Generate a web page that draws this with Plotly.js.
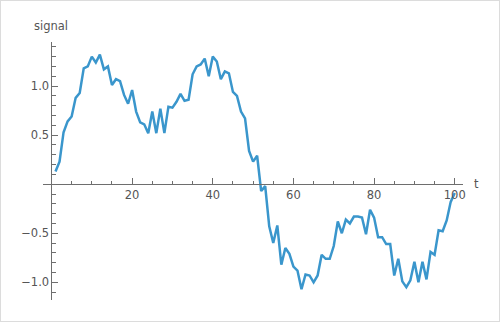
<!DOCTYPE html>
<html>
<head>
<meta charset="utf-8">
<script src="https://cdn.plot.ly/plotly-3.0.1.min.js"></script>
<style>
  html, body { margin: 0; padding: 0; background: #fff; }
  #wrap { position: relative; width: 500px; height: 322px; }
  #chart { position: absolute; left: 0; top: 0; width: 500px; height: 322px; }
  #frame { position: absolute; left: 0; top: 0; width: 500px; height: 322px; box-sizing: border-box; border: 1px solid #dcdcdc; pointer-events: none; }
</style>
</head>
<body>
<div id="wrap"><div id="chart"></div><div id="frame"></div></div>
<script>
// Data
const t = [];
for (let i = 1; i <= 100; i++) t.push(i);
const signal = [
  0.13, 0.23, 0.53, 0.64, 0.69, 0.88, 0.93, 1.18, 1.20, 1.30,
  1.24, 1.32, 1.17, 1.20, 1.01, 1.07, 1.05, 0.91, 0.82, 0.96,
  0.74, 0.63, 0.61, 0.52, 0.74, 0.52, 0.77, 0.52, 0.79, 0.78,
  0.84, 0.92, 0.85, 0.86, 1.12, 1.20, 1.22, 1.28, 1.10, 1.30,
  1.25, 1.07, 1.15, 1.13, 0.94, 0.90, 0.74, 0.67, 0.34, 0.23,
  0.29, -0.07, -0.02, -0.43, -0.60, -0.42, -0.82, -0.65, -0.71, -0.84,
  -0.88, -1.07, -0.92, -0.93, -1.00, -0.93, -0.72, -0.76, -0.76, -0.63,
  -0.38, -0.50, -0.36, -0.40, -0.33, -0.33, -0.34, -0.51, -0.26, -0.34,
  -0.54, -0.54, -0.61, -0.61, -0.93, -0.76, -0.99, -1.05, -0.98, -0.79,
  -1.00, -0.79, -0.97, -0.69, -0.72, -0.47, -0.48, -0.37, -0.18, -0.09
];
const xTickVals = [20, 40, 60, 80, 100];
const xTickText = ['20', '40', '60', '80', '100'];
const yTickVals = [-1.0, -0.5, 0.5, 1.0];
const yTickText = ['\u22121.0', '\u22120.5', '0.5', '1.0'];
const xLabel = 't';
const yLabel = 'signal';

const xRange = [-2.1, 102.05];
const yRange = [-1.18, 1.449];
const xAxisPos = (0 - yRange[0]) / (yRange[1] - yRange[0]);
const yAxisPos = (0 - xRange[0]) / (xRange[1] - xRange[0]);

const axisColor = '#6e6e6e';
const textColor = '#555555';
const fontFam = 'DejaVu Sans, sans-serif';

const trace = {
  x: t, y: signal, type: 'scatter', mode: 'lines',
  line: { color: '#3a96cc', width: 2.5 },
  hoverinfo: 'skip'
};

const layout = {
  width: 500, height: 322,
  margin: { l: 43, r: 37, t: 42, b: 22 },
  paper_bgcolor: '#ffffff', plot_bgcolor: '#ffffff',
  showlegend: false,
  font: { family: fontFam, size: 11.5, color: textColor },
  xaxis: {
    range: xRange, anchor: 'free', position: xAxisPos,
    showgrid: false, zeroline: false,
    showline: true, linecolor: axisColor, linewidth: 1,
    tickmode: 'array', tickvals: xTickVals, ticktext: xTickText,
    ticks: 'inside', ticklen: 6, tickcolor: axisColor, tickwidth: 1,
    tickfont: { family: fontFam, size: 11.5, color: textColor },
    minor: { tickmode: 'linear', tick0: 0, dtick: 5, ticks: 'inside', ticklen: 3.5, tickcolor: axisColor, tickwidth: 1, showgrid: false },
    fixedrange: true
  },
  yaxis: {
    range: yRange, anchor: 'free', position: yAxisPos,
    showgrid: false, zeroline: false,
    showline: true, linecolor: axisColor, linewidth: 1,
    tickmode: 'array', tickvals: yTickVals, ticktext: yTickText,
    ticks: 'inside', ticklen: 6, tickcolor: axisColor, tickwidth: 1,
    tickfont: { family: fontFam, size: 11.5, color: textColor },
    minor: { tickmode: 'linear', tick0: 0, dtick: 0.1, ticks: 'inside', ticklen: 3.5, tickcolor: axisColor, tickwidth: 1, showgrid: false },
    fixedrange: true
  },
  annotations: [
    { text: yLabel, xref: 'x', x: 0, yref: 'paper', y: 1, xanchor: 'center', yanchor: 'bottom', yshift: 7, showarrow: false,
      font: { family: fontFam, size: 11.5, color: textColor } },
    { text: xLabel, xref: 'paper', x: 1, yref: 'y', y: 0, xanchor: 'left', yanchor: 'middle', xshift: 9, showarrow: false,
      font: { family: fontFam, size: 11.5, color: textColor } }
  ]
};

Plotly.newPlot('chart', [trace], layout, { displayModeBar: false, staticPlot: true });
</script>
</body>
</html>
